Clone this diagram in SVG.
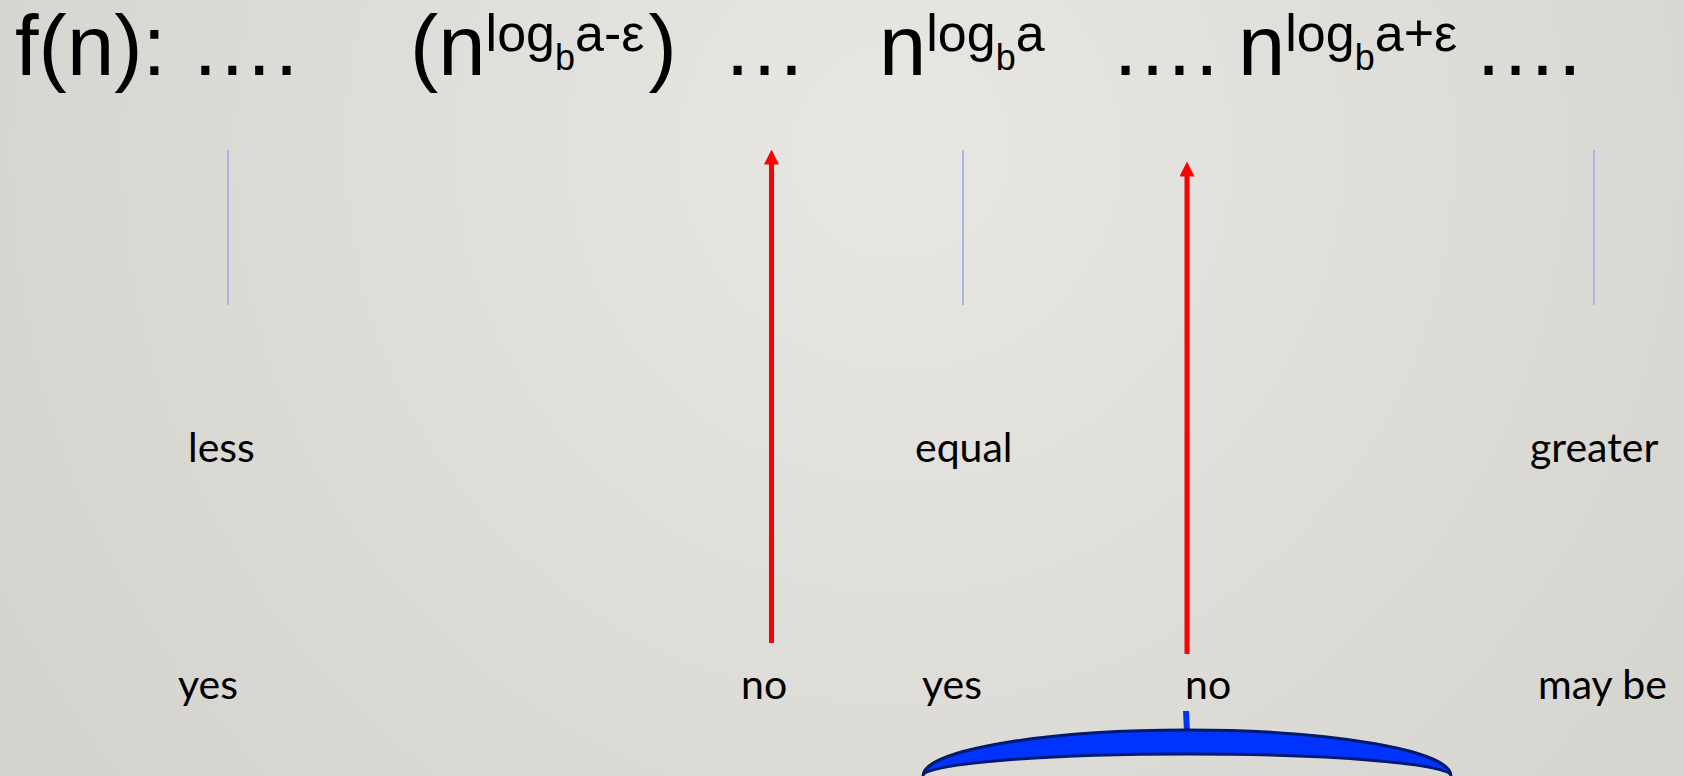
<svg xmlns="http://www.w3.org/2000/svg" width="1684" height="776" viewBox="0 0 1684 776">
<defs>
<radialGradient id="bg" cx="900" cy="150" r="1100" gradientUnits="userSpaceOnUse">
<stop offset="0" stop-color="#e9e7e3"/>
<stop offset="1" stop-color="#d4d2cd"/>
</radialGradient>
<marker id="ah" markerWidth="3" markerHeight="3" refX="1.5" refY="1.5" orient="auto" markerUnits="strokeWidth" viewBox="0 0 3 3">
<path d="M0,0 L3,1.5 L0,3 z" fill="#ff0000"/>
</marker>
<style>
.t{font-family:"Liberation Sans",Arial,sans-serif;fill:#000}
.m{font-size:85px}
.sp{font-size:52px}
.sb{font-size:36px}
.lb{font-family:Lato,"Open Sans",sans-serif;font-size:41px;fill:#000}
.tick{stroke:#a9b6e4;stroke-width:2}
.red{stroke:#ff0000;stroke-width:5;fill:none}
</style>
</defs>
<rect width="1684" height="776" fill="url(#bg)"/>
<g id="title">
<text class="t m" x="15" y="75">f(n): ….</text>
<text class="t m" x="410" y="75">(n<tspan class="sp" y="51">log</tspan><tspan class="sb" y="70">b</tspan><tspan class="sp" y="51">a-ε</tspan><tspan dx="4" y="75">)</tspan></text>
<text class="t m" x="722" y="75">…</text>
<text class="t m" x="879" y="75">n<tspan class="sp" y="51">log</tspan><tspan class="sb" y="70">b</tspan><tspan class="sp" y="51">a</tspan></text>
<text class="t m" x="1110" y="75">….</text>
<text class="t m" x="1238" y="75">n<tspan class="sp" y="51">log</tspan><tspan class="sb" y="70">b</tspan><tspan class="sp" y="51">a+ε</tspan></text>
<text class="t m" x="1473" y="75">….</text>
</g>
<g id="markers">
<line class="tick" x1="228" y1="150" x2="228" y2="305"/>
<line class="tick" x1="963" y1="150" x2="963" y2="305"/>
<line class="tick" x1="1594" y1="150" x2="1594" y2="305"/>
</g>
<g id="labels">
<text class="lb" x="188" y="462">less</text>
<text class="lb" x="915" y="462">equal</text>
<text class="lb" x="1530" y="462">greater</text>
<text class="lb" x="178" y="699">yes</text>
<text class="lb" x="741" y="699">no</text>
<text class="lb" x="922" y="699">yes</text>
<text class="lb" x="1185" y="699">no</text>
<text class="lb" x="1538" y="699">may be</text>
</g>
<g id="connectors">
<line class="red" x1="771.5" y1="643" x2="771.5" y2="157" marker-end="url(#ah)"/>
<line class="red" x1="1187" y1="654" x2="1187" y2="169" marker-end="url(#ah)"/>
</g>
<g id="brace">
<path d="M1183,711 L1189,711 L1190,732 L1184,732 Z" fill="#0033ff"/>
<path d="M923,776 A264,46 0 0 1 1451,776 A264,22 0 0 0 923,776 Z" fill="#0033ff" stroke="#001a6e" stroke-width="3" stroke-linejoin="round"/>
</g>
</svg>
